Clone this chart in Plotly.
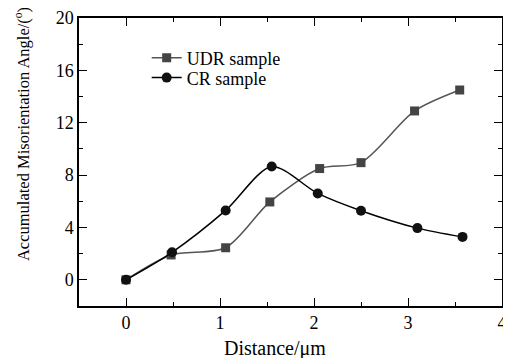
import plotly.graph_objects as go

udr_x = [0, 0.48, 1.06, 1.53, 2.06, 2.50, 3.07, 3.55]
udr_y = [0, 1.9, 2.45, 5.95, 8.5, 8.95, 12.9, 14.5]
cr_x = [0, 0.49, 1.06, 1.55, 2.04, 2.50, 3.10, 3.58]
cr_y = [0, 2.1, 5.3, 8.65, 6.6, 5.28, 3.95, 3.28]

x_title = "Distance/\u03bcm"
y_title = "Accumulated Misorientation Angle/(<sup>o</sup>)"

font = "Liberation Serif, Times New Roman, serif"

fig = go.Figure()
fig.add_trace(go.Scatter(
    x=udr_x, y=udr_y, name="UDR sample", mode="lines+markers", legend="legend",
    line=dict(color="#555555", width=1.5, shape="spline", smoothing=0.8),
    marker=dict(symbol="square", size=9, color="#444444"),
))
fig.add_trace(go.Scatter(
    x=cr_x, y=cr_y, name="CR sample", mode="lines+markers", legend="legend2",
    line=dict(color="#000000", width=1.5, shape="spline", smoothing=0.8),
    marker=dict(symbol="circle", size=10, color="#111111"),
))

axis_common = dict(
    showline=True, linecolor="black", linewidth=1.5, mirror="allticks",
    ticks="inside", ticklen=8, tickwidth=1.2, tickcolor="black",
    showgrid=False, zeroline=False,
    tickfont=dict(family=font, size=18, color="black"),
)

leg_common = dict(x=0.16, xanchor="left", yanchor="middle",
                  bgcolor="rgba(0,0,0,0)", font=dict(family=font, size=18),
                  itemsizing="trace")

fig.update_layout(
    width=503, height=350,
    margin=dict(l=71, r=9, t=10, b=52, autoexpand=False),
    plot_bgcolor="white", paper_bgcolor="white",
    font=dict(family=font, color="black"),
    showlegend=True,
    legend=dict(y=0.861, **leg_common),
    legend2=dict(y=0.792, **leg_common),
    xaxis=dict(range=[-0.5, 4], tickvals=[0, 1, 2, 3, 4],
               minor=dict(dtick=0.5, ticks="inside", ticklen=4, tickcolor="black"),
               **axis_common),
    yaxis=dict(range=[-2, 20], tickvals=[0, 4, 8, 12, 16, 20],
               minor=dict(dtick=2, ticks="inside", ticklen=4, tickcolor="black"),
               **axis_common),
    annotations=[
        dict(text=x_title, xref="paper", yref="paper", x=0.463, y=0,
             xanchor="center", yanchor="middle", yshift=-42, showarrow=False,
             font=dict(family=font, size=20)),
        dict(text=y_title, xref="paper", yref="paper", x=0, y=0.597,
             xanchor="center", yanchor="middle", xshift=-57, textangle=-90,
             showarrow=False, font=dict(family=font, size=16.5)),
    ],
)

fig.write_html("out.html")
